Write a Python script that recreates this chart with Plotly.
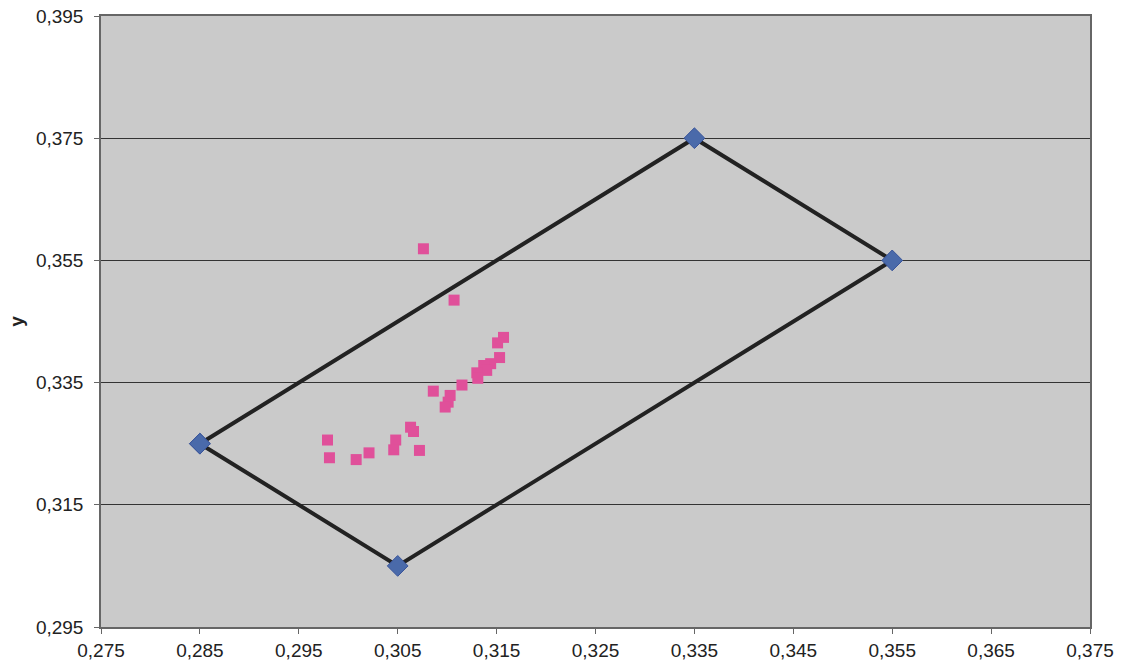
import plotly.graph_objects as go

# Boundary polygon vertices (closed)
poly_x = [0.285, 0.335, 0.355, 0.305, 0.285]
poly_y = [0.325, 0.375, 0.355, 0.305, 0.325]

# Measured points
pts_x = [0.3076, 0.3107, 0.3157, 0.3151, 0.3153, 0.3144, 0.3137, 0.3140, 0.3130,
         0.3131, 0.3115, 0.3086, 0.3103, 0.3101, 0.3098, 0.3063, 0.3066, 0.3048,
         0.3046, 0.3072, 0.2979, 0.2981, 0.3008, 0.3021]
pts_y = [0.3569, 0.3485, 0.3424, 0.3415, 0.3391, 0.3381, 0.3378, 0.3370, 0.3366,
         0.3357, 0.3346, 0.3336, 0.3329, 0.3318, 0.3310, 0.3277, 0.3270, 0.3256,
         0.3240, 0.3239, 0.3256, 0.3227, 0.3224, 0.3235]

x_ticks = [0.275, 0.285, 0.295, 0.305, 0.315, 0.325, 0.335, 0.345, 0.355, 0.365, 0.375]
y_ticks = [0.295, 0.315, 0.335, 0.355, 0.375, 0.395]

fig = go.Figure()
fig.add_trace(go.Scatter(
    x=poly_x, y=poly_y, mode="lines+markers",
    line=dict(color="#222222", width=4),
    marker=dict(symbol="diamond", size=16, color="#4a6aaa",
                line=dict(color="#3a559a", width=1)),
    showlegend=False))
fig.add_trace(go.Scatter(
    x=pts_x, y=pts_y, mode="markers",
    marker=dict(symbol="square", size=11, color="#e0509a"),
    showlegend=False))

fmt = lambda v: f"{v:.3f}".replace(".", ",")

fig.update_layout(
    width=1122, height=671,
    margin=dict(l=101, r=32, t=16, b=44, autoexpand=False),
    paper_bgcolor="white", plot_bgcolor="#cacaca",
    font=dict(family="Liberation Sans, Arial, sans-serif", size=19, color="#222222"),
    xaxis=dict(range=[0.275, 0.375], tickvals=x_ticks, ticktext=[fmt(v) for v in x_ticks],
               showgrid=False, zeroline=False, showline=True, linecolor="#666666",
               linewidth=1.5, mirror=True, ticks="outside", ticklen=5, tickcolor="#666666",
               tickfont=dict(size=19), automargin=False),
    yaxis=dict(range=[0.295, 0.395], tickvals=y_ticks, ticktext=[fmt(v) for v in y_ticks],
               showgrid=True, gridcolor="#333333", gridwidth=1, zeroline=False,
               showline=True, linecolor="#666666", linewidth=1.5, mirror=True,
               ticks="outside", ticklen=5, tickcolor="#666666", ticklabelstandoff=7,
               tickfont=dict(size=19), automargin=False,
               title=dict(text="<b>y</b>", standoff=7, font=dict(size=19))),
)

fig.write_html("out.html", config={"displayModeBar": False},
               post_script="document.body.style.margin='0';")
